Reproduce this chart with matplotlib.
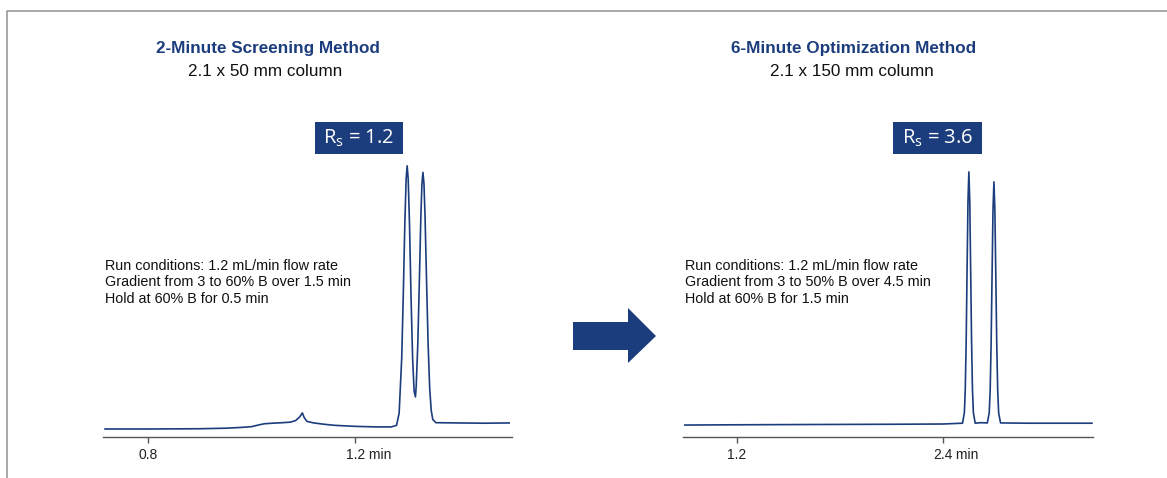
import matplotlib
matplotlib.use("Agg")
import matplotlib.pyplot as plt
from matplotlib.patches import Rectangle, Polygon
from matplotlib.lines import Line2D

plt.rcParams["font.family"] = ["Liberation Sans", "DejaVu Sans"]

NAVY = "#1c3d7d"
W, H = 1167, 478

# 2-minute screening trace (time in min, signal in arbitrary units)
t_screen = [0.717, 0.80, 0.90, 0.95, 0.98, 1.00, 1.015, 1.025, 1.04, 1.06, 1.075,
            1.085, 1.093, 1.098, 1.102, 1.107, 1.12, 1.14, 1.16, 1.20, 1.24, 1.265,
            1.270, 1.280, 1.285, 1.290, 1.293, 1.296, 1.2985, 1.3005, 1.3025, 1.305,
            1.308, 1.311, 1.314, 1.3165, 1.318, 1.321, 1.324, 1.327, 1.329, 1.331,
            1.333, 1.335, 1.338, 1.341, 1.344, 1.347, 1.350, 1.356, 1.40, 1.45, 1.4976]
s_screen = [0.0, 0.0, 0.1, 0.3, 0.6, 0.9, 1.6, 2.0, 2.2, 2.4, 2.6,
            3.2, 4.6, 6.1, 4.2, 2.9, 2.3, 1.8, 1.4, 1.0, 0.8, 0.8,
            0.8, 1.4, 6.0, 27.0, 51.0, 78.0, 95.0, 100.0, 95.0, 78.0,
            50.0, 27.0, 14.3, 12.2, 16.4, 32.0, 55.6, 81.0, 93.0, 97.5,
            93.0, 81.0, 56.0, 32.0, 15.5, 7.0, 3.6, 2.4, 2.3, 2.2, 2.3]

# 6-minute optimization trace
t_optim = [0.897, 1.2, 1.6, 2.11, 2.40, 2.514, 2.5248, 2.530, 2.5353, 2.5405, 2.5458,
           2.551, 2.5563, 2.5615, 2.5668, 2.572, 2.5773, 2.5878, 2.62, 2.6585, 2.6695,
           2.675, 2.6805, 2.686, 2.6915, 2.697, 2.7025, 2.708, 2.7135, 2.719, 2.7245,
           2.7355, 2.90, 3.10, 3.268]
s_optim = [1.5, 1.6, 1.7, 1.8, 1.9, 2.2, 6.2, 14.9, 33.1, 60.1, 86.4,
           97.7, 86.4, 60.1, 33.1, 14.9, 6.2, 2.2, 2.4, 2.3, 6.1,
           14.5, 31.9, 57.8, 83.1, 93.9, 83.1, 57.8, 31.9, 14.5, 6.1,
           2.3, 2.2, 2.2, 2.2]

panels = [
    dict(t=t_screen, s=s_screen, xlim=(0.713, 1.503), ticks=[0.8, 1.2],
         ticklabels=["0.8", "1.2"], left=103, right=512,
         title="2-Minute Screening Method", title_x=268,
         sub="2.1 x 50 mm column", sub_x=265,
         rs="R$_\\mathregular{s}$ = 1.2", box=(315, 403),
         cond=["Run conditions: 1.2 mL/min flow rate",
               "Gradient from 3 to 60% B over 1.5 min",
               "Hold at 60% B for 0.5 min"]),
    dict(t=t_optim, s=s_optim, xlim=(0.886, 3.274), ticks=[1.2, 2.4],
         ticklabels=["1.2", "2.4"], left=683, right=1093,
         title="6-Minute Optimization Method", title_x=854,
         sub="2.1 x 150 mm column", sub_x=852,
         rs="R$_\\mathregular{s}$ = 3.6", box=(893, 982),
         cond=["Run conditions: 1.2 mL/min flow rate",
               "Gradient from 3 to 50% B over 4.5 min",
               "Hold at 60% B for 1.5 min"]),
]

fig = plt.figure(figsize=(W / 100, H / 100), dpi=100)

ax_top, ax_bottom = 150, 437
for p in panels:
    ax = fig.add_axes([p["left"] / W, 1 - ax_bottom / H,
                       (p["right"] - p["left"]) / W, (ax_bottom - ax_top) / H])
    ax.plot(p["t"], p["s"], color=NAVY, lw=1.2, solid_joinstyle="round")
    ax.set_xlim(*p["xlim"])
    ax.set_ylim(-3.04, 106)
    for side in ["left", "right", "top"]:
        ax.spines[side].set_visible(False)
    ax.spines["bottom"].set_color("#555555")
    ax.spines["bottom"].set_linewidth(1.0)
    ax.set_yticks([])
    ax.set_xticks(p["ticks"])
    ax.set_xticklabels(p["ticklabels"], fontsize=10, color="#222222")
    ax.tick_params(axis="x", direction="out", length=4, width=1.0,
                   color="#555555", pad=4)
    ax.annotate(" min", xy=(p["ticks"][1], 0), xycoords=("data", "axes fraction"),
                xytext=(6.8, -8), textcoords="offset points",
                ha="left", va="top", fontsize=10, color="#222222")
    ax.set_facecolor("none")

    fig.text(p["title_x"] / W, 1 - 48 / H, p["title"], ha="center", va="center",
             fontsize=12.3, fontweight="bold", color=NAVY)
    fig.text(p["sub_x"] / W, 1 - 71 / H, p["sub"], ha="center", va="center",
             fontsize=12.3, color="#111111")

    bx0, bx1 = p["box"]
    fig.patches.append(Rectangle((bx0 / W, 1 - 154 / H), (bx1 - bx0) / W, 32 / H,
                                 transform=fig.transFigure, facecolor=NAVY,
                                 edgecolor="none"))
    fig.text((bx0 + bx1) / 2 / W, 1 - 138 / H, p["rs"], ha="center", va="center",
             fontsize=14.5, color="white", family=["Open Sans", "DejaVu Sans"])

    for i, line in enumerate(p["cond"]):
        fig.text((p["left"] + 2) / W, 1 - (270 + 16.5 * i) / H, line,
                 ha="left", va="baseline", fontsize=10.4, color="#111111")

# arrow between the panels
arrow = [(573, 322), (628, 322), (628, 308), (656, 336), (628, 363), (628, 350), (573, 350)]
fig.patches.append(Polygon([(x / W, 1 - y / H) for x, y in arrow], closed=True,
                           transform=fig.transFigure, facecolor=NAVY, edgecolor="none"))

# thin gray frame (top and left)
fig.lines.append(Line2D([7 / W, 7 / W, 1.0], [0.0, 1 - 11 / H, 1 - 11 / H],
                        transform=fig.transFigure, color="#999999", lw=1.2))

fig.savefig("out.png", dpi=100)
